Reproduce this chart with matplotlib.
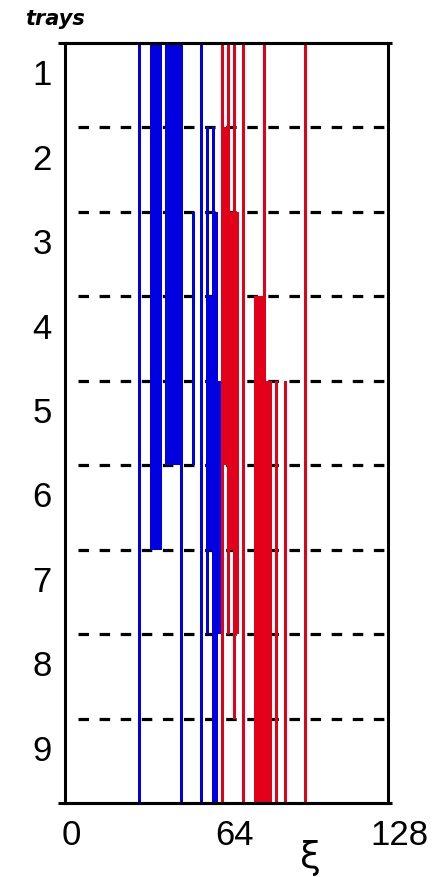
import matplotlib
matplotlib.use("Agg")
import matplotlib.pyplot as plt
import matplotlib.transforms as mtransforms
from matplotlib import font_manager

# ---------------- data ----------------
trays = [1, 2, 3, 4, 5, 6, 7, 8, 9]
xi_ticks = [0, 64, 128]
xi_ticklabels = ["0", "64", "128"]
tray_labels = ["1", "2", "3", "4", "5", "6", "7", "8", "9"]

# occupied xi intervals (start, end) for each tray
blue_spans = [
    [(28.9, 30.1), (33.6, 38.4), (39.6, 46.6), (53.4, 54.6)],
    [(28.9, 30.1), (33.6, 38.4), (39.6, 46.6), (53.4, 54.6), (55.8, 57.0), (58.2, 59.4)],
    [(28.9, 30.1), (33.6, 38.4), (39.6, 46.6), (50.3, 51.5), (53.4, 54.6), (55.8, 57.0), (58.2, 60.6)],
    [(28.9, 30.1), (33.6, 38.4), (39.6, 46.6), (50.3, 51.5), (53.4, 54.6), (55.8, 60.6)],
    [(28.9, 30.1), (33.6, 38.4), (39.6, 46.6), (50.3, 51.5), (53.4, 54.6), (55.8, 61.8)],
    [(28.9, 30.1), (33.6, 38.4), (45.5, 46.7), (53.4, 54.6), (55.8, 61.8)],
    [(28.9, 30.1), (45.5, 46.7), (53.4, 54.6), (55.8, 57.0), (58.2, 61.8)],
    [(28.9, 30.1), (45.5, 46.7), (53.4, 54.6), (58.2, 60.6)],
    [(28.9, 30.1), (45.5, 46.7), (53.4, 54.6), (58.2, 60.6)],
]
red_spans = [
    [(61.8, 62.9), (64.1, 65.3), (66.5, 67.7), (70.1, 71.3), (78.4, 79.6), (94.6, 95.8)],
    [(61.8, 65.3), (66.5, 67.7), (70.1, 71.3), (78.4, 79.6), (94.6, 95.8)],
    [(61.8, 68.9), (70.1, 71.3), (78.4, 79.6), (94.6, 95.8)],
    [(61.8, 68.9), (70.1, 71.3), (74.8, 79.6), (94.6, 95.8)],
    [(61.8, 68.9), (70.1, 71.3), (74.8, 81.9), (83.1, 84.3), (86.7, 87.9), (94.6, 95.8)],
    [(61.8, 62.9), (64.1, 68.9), (70.1, 71.3), (74.8, 81.9), (83.1, 84.3), (86.7, 87.9), (94.6, 95.8)],
    [(61.8, 62.9), (64.1, 65.3), (66.5, 68.9), (70.1, 71.3), (74.8, 81.9), (83.1, 84.3), (86.7, 87.9), (94.6, 95.8)],
    [(61.8, 62.9), (66.5, 67.7), (70.1, 71.3), (74.8, 81.9), (83.1, 84.3), (86.7, 87.9), (94.6, 95.8)],
    [(61.8, 62.9), (70.1, 71.3), (74.8, 81.9), (83.1, 84.3), (86.7, 87.9), (94.6, 95.8)],
]

BLUE = "#0000e0"
RED = "#e3001b"

plt.rcParams["lines.scale_dashes"] = False

# ---------------- fonts ----------------
installed = {f.name for f in font_manager.fontManager.ttflist}
num_family = ["Liberation Sans Narrow"] if "Liberation Sans Narrow" in installed else ["Liberation Sans", "DejaVu Sans"]

# ---------------- figure ----------------
W, H = 443, 877
fig = plt.figure(figsize=(W / 100, H / 100), dpi=100)
ax = fig.add_axes([65 / W, (H - 803) / H, 323 / W, 760 / H])
ax.set_xlim(0, 128)
ax.set_ylim(9.5, 0.5)
ax.set_xticks([])
ax.set_yticks([])
for sp in ax.spines.values():
    sp.set_linewidth(2.2)
    sp.set_color("black")
    sp.set_zorder(5)

# frame extensions at top and bottom
for yb in (0.5, 9.5):
    ax.plot([-2.7, 129.4], [yb, yb], color="black", lw=2.2, clip_on=False,
            solid_capstyle="butt", zorder=5)

# dashed tray boundaries
for b in range(1, len(trays)):
    ax.hlines(b + 0.5, 5.15, 128, colors="black", lw=2.3,
              linestyles=(0, (7.56, 7.63)), zorder=1)

# spans
for t, bs, rs in zip(trays, blue_spans, red_spans):
    ax.broken_barh([(s, e - s) for s, e in bs], (t - 0.5, 1.0),
                   facecolors=BLUE, edgecolor="none", zorder=2, antialiased=False)
    ax.broken_barh([(s, e - s) for s, e in rs], (t - 0.5, 1.0),
                   facecolors=RED, edgecolor="none", zorder=2, antialiased=False)

# y labels (tray numbers)
trb = mtransforms.blended_transform_factory(fig.transFigure, ax.transData)
for t, lab in zip(trays, tray_labels):
    ax.text(42 / W, t, lab, transform=trb, ha="center", va="baseline",
            fontsize=25, family=num_family, color="black")

# x labels
x_offsets = [6.5, 7.5, 11]
base = mtransforms.blended_transform_factory(ax.transData, fig.transFigure)
for v, lab, dx in zip(xi_ticks, xi_ticklabels, x_offsets):
    tr = mtransforms.offset_copy(base, fig=fig, x=dx, y=0, units="dots")
    ax.text(v, (H - 845) / H, lab, transform=tr, ha="center", va="baseline",
            fontsize=25, family=num_family, color="black")

# axis titles
fig.text(25 / W, 1 - 19 / H, "trays", ha="left", va="center", fontsize=15,
         style="italic", weight="bold", color="black")
fig.text(310 / W, 1 - 858 / H, "ξ", ha="center", va="center", fontsize=27,
         color="black", family=["DejaVu Sans"])

fig.savefig("out.png", dpi=100)
